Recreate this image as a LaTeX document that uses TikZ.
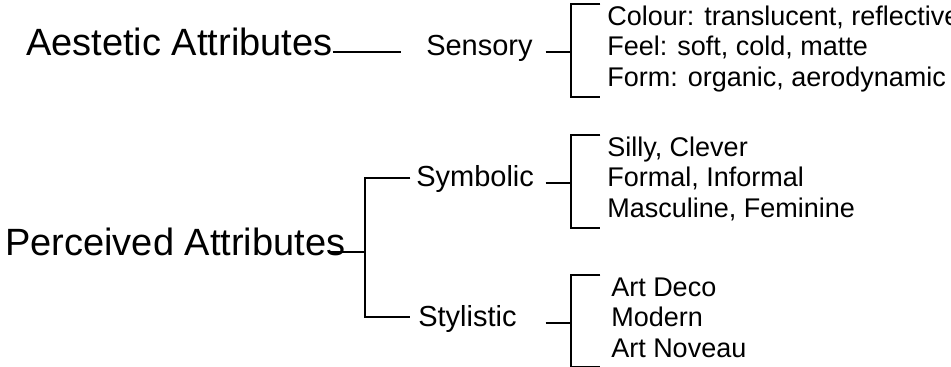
\documentclass[tikz,border=0pt]{standalone}
\usepackage{fontspec}
\setmainfont{Liberation Sans}
\usetikzlibrary{calc}

\begin{document}
\begin{tikzpicture}[x=0.75pt,y=0.75pt,
  attr/.style={inner sep=0pt,anchor=mid west,font=\fontsize{28.5}{30}\selectfont},
  aspect/.style={inner sep=0pt,anchor=mid west,font=\fontsize{21.75}{24}\selectfont},
  item/.style={inner sep=0pt,anchor=mid west,font=\fontsize{20.25}{22}\selectfont},
  link/.style={line width=1.4pt}]
\useasboundingbox (0,0) rectangle (951,367);
\node[attr] (aest) at (26,315) {Aestetic Attributes};
\node[aspect] (sens) at (426,315) {Sensory};
\draw[link] (aest.mid east) -- ([xshift=-19]sens.mid west);
\begin{scope}[shift={(571,315)}]
\coordinate (sensB) at (0,0);
\coordinate (sensT) at (0,48);
\coordinate (sensL) at (0,-45);
\draw[link] ([xshift=-19]sensB) -- (sensB);
\draw[link] ([xshift=22]sensT) -- (sensT) -- (sensL) -- ([xshift=22]sensL);
\node[item] (sens1) at (36,30.5) {Colour: translucent, reflective};
\node[item] (sens2) at (36,0) {Feel: soft, cold, matte};
\node[item] (sens3) at (36,-30.5) {Form: organic, aerodynamic};
\end{scope}
\node[attr] (perc) at (5,115) {Perceived Attributes};
\coordinate (percJ) at (365,115);
\coordinate (percT) at (365,189);
\coordinate (percL) at (365,50);
\draw[link] ([xshift=-13]perc.mid east) -- (percJ);
\draw[link] ([xshift=34]percT) -- (percT) -- (percL) -- ([xshift=34]percL);
\node[aspect] (symb) at (416,184) {Symbolic};
\node[aspect] (styl) at (418,44) {Stylistic};
\begin{scope}[shift={(571,184)}]
\coordinate (symbB) at (0,0);
\coordinate (symbT) at (0,48);
\coordinate (symbL) at (0,-45);
\draw[link] ([xshift=-19]symbB) -- (symbB);
\draw[link] ([xshift=22]symbT) -- (symbT) -- (symbL) -- ([xshift=22]symbL);
\node[item] (symb1) at (36,30.5) {Silly, Clever};
\node[item] (symb2) at (36,0) {Formal, Informal};
\node[item] (symb3) at (36,-30.5) {Masculine, Feminine};
\end{scope}
\begin{scope}[shift={(571,44)}]
\coordinate (stylB) at (0,0);
\coordinate (stylT) at (0,48);
\coordinate (stylL) at (0,-44);
\draw[link] ([xshift=-19]stylB) -- (stylB);
\draw[link] ([xshift=22]stylT) -- (stylT) -- (stylL) -- ([xshift=22]stylL);
\node[item] (styl1) at (40,30.5) {Art Deco};
\node[item] (styl2) at (40,0) {Modern};
\node[item] (styl3) at (40,-30.5) {Art Noveau};
\end{scope}
\end{tikzpicture}
\end{document}
